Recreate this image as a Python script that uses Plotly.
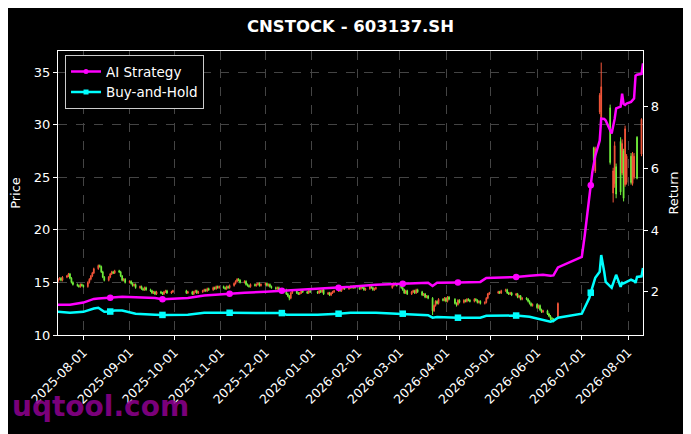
import pandas as pd
import plotly.graph_objects as go

# --- daily candles, 2025-07-15 .. 2026-06-15 (SSE trading days) ---
holidays = ["2025-10-01", "2025-10-02", "2025-10-03", "2025-10-06", "2025-10-07", "2025-10-08",
            "2026-01-01", "2026-01-02", "2026-02-16", "2026-02-17", "2026-02-18", "2026-02-19",
            "2026-02-20", "2026-02-23", "2026-04-06", "2026-05-01", "2026-05-04", "2026-05-05"]

open_ = [
    15.1, 15.3, 15.4, 15.2, 15.5, 15.6, 15.8, 15.4, 15.0, 14.8, 14.7, 14.6, 14.8,
    14.7, 14.6, 15.0, 15.3, 15.6, 15.9, 16.3, 16.6, 16.5, 16.0, 15.5, 15.2, 15.5, 15.8, 16.0, 15.9, 16.1, 16.0, 15.6, 15.2, 15.3,
    15.0, 15.1, 14.9, 14.7, 14.8, 14.5, 14.6, 14.4, 14.3, 14.5, 14.3, 14.2, 14.0, 14.1, 13.9, 14.1, 14.0, 13.9, 14.1, 14.2, 14.0, 14.1,
    14.2, 14.0, 14.1, 13.9, 14.1, 14.2, 14.0, 14.1, 14.2, 14.3, 14.2, 14.4, 14.3, 14.5, 14.4, 14.6, 14.5,
    14.6, 14.5, 14.4, 14.6, 14.5, 14.7, 14.9, 15.1, 15.3, 15.2, 15.0, 15.1, 14.8, 14.7, 14.6, 14.8, 14.7, 14.8, 14.9, 14.7,
    14.8, 14.9, 14.7, 14.8, 14.6, 14.5, 14.4, 14.5, 14.3, 14.2, 14.3, 13.9, 13.7, 13.5, 14.0, 14.2, 14.0, 13.9, 14.0, 14.2, 14.1, 14.0, 14.2,
    14.1, 14.0, 14.2, 14.1, 14.3, 13.9, 14.0, 13.8, 14.0, 14.1, 14.2, 14.3, 14.2, 14.4, 14.5, 14.4, 14.5, 14.6, 14.5, 14.6,
    14.5, 14.4, 14.6, 14.5, 14.3, 14.4, 14.6, 14.5, 14.3, 14.4, 14.5, 14.7, 14.9, 14.8,
    14.7, 14.5, 14.3, 14.0, 14.2, 13.9, 14.1, 14.2, 14.0, 14.3, 14.1, 13.8, 13.9, 13.6, 13.7, 13.5, 12.3, 12.8, 13.2, 13.0, 13.4, 13.3,
    13.5, 13.2, 13.6, 13.4, 13.0, 12.9, 13.3, 13.1, 13.3, 13.2, 13.4, 13.3, 13.2, 13.4, 13.3, 13.1, 13.2, 13.0, 13.1, 13.5, 13.9,
    14.0, 14.1, 14.0, 14.2, 14.3, 14.0, 13.9, 14.0, 13.8, 13.9, 13.6, 13.7, 13.4, 13.5, 13.4, 13.2, 13.0, 12.8,
    12.9, 12.6, 12.8, 12.4, 12.2, 12.3, 12.0, 11.8, 11.6, 11.5, 11.6,
]
high = [
    15.4, 15.5, 15.5, 15.6, 15.7, 15.9, 15.9, 15.5, 15.1, 14.9, 14.8, 14.9, 14.9,
    14.8, 15.1, 15.4, 15.7, 16.0, 16.4, 16.7, 16.7, 16.6, 16.1, 15.6, 15.6, 15.9, 16.1, 16.1, 16.2, 16.2, 16.1, 15.7, 15.4, 15.4,
    15.2, 15.2, 15.0, 14.9, 14.9, 14.7, 14.7, 14.5, 14.6, 14.6, 14.4, 14.3, 14.2, 14.2, 14.2, 14.2, 14.1, 14.2, 14.3, 14.3, 14.2, 14.3,
    14.3, 14.2, 14.2, 14.2, 14.3, 14.3, 14.2, 14.3, 14.4, 14.4, 14.5, 14.5, 14.6, 14.6, 14.7, 14.7, 14.7,
    14.7, 14.6, 14.7, 14.7, 14.8, 15.0, 15.2, 15.4, 15.4, 15.3, 15.2, 15.2, 14.9, 14.8, 14.9, 14.9, 14.9, 15.0, 15.0, 14.9,
    15.0, 15.0, 14.9, 14.9, 14.7, 14.6, 14.6, 14.6, 14.4, 14.4, 14.4, 14.0, 13.8, 14.1, 14.3, 14.3, 14.1, 14.1, 14.3, 14.3, 14.2, 14.3, 14.3,
    14.2, 14.3, 14.3, 14.4, 14.4, 14.1, 14.1, 14.1, 14.2, 14.3, 14.4, 14.4, 14.5, 14.6, 14.6, 14.6, 14.7, 14.7, 14.7, 14.7,
    14.6, 14.7, 14.7, 14.6, 14.5, 14.7, 14.7, 14.6, 14.5, 14.6, 14.8, 15.0, 15.0, 14.9,
    14.8, 14.6, 14.4, 14.3, 14.3, 14.2, 14.3, 14.3, 14.4, 14.4, 14.2, 14.0, 14.0, 13.8, 13.8, 13.6, 12.9, 13.3, 13.3, 13.5, 13.5, 13.6,
    13.6, 13.7, 13.7, 13.5, 13.1, 13.4, 13.4, 13.4, 13.4, 13.5, 13.5, 13.4, 13.5, 13.5, 13.4, 13.3, 13.3, 13.2, 13.6, 14.0, 14.1,
    14.2, 14.2, 14.3, 14.4, 14.4, 14.1, 14.1, 14.1, 14.0, 14.0, 13.8, 13.8, 13.6, 13.6, 13.5, 13.3, 13.1, 13.0,
    13.0, 12.9, 12.9, 12.5, 12.4, 12.4, 12.1, 11.9, 11.7, 11.6, 13.1,
]
low = [
    15.0, 15.2, 15.1, 15.1, 15.4, 15.5, 15.3, 14.9, 14.7, 14.6, 14.5, 14.5, 14.6,
    14.5, 14.5, 14.9, 15.2, 15.5, 15.8, 16.2, 16.4, 15.9, 15.4, 15.1, 15.1, 15.4, 15.7, 15.8, 15.8, 15.9, 15.5, 15.1, 15.1, 14.9,
    14.9, 14.8, 14.6, 14.6, 14.4, 14.4, 14.3, 14.2, 14.2, 14.2, 14.1, 13.9, 13.9, 13.8, 13.8, 13.9, 13.8, 13.8, 14.0, 13.9, 13.9, 14.0,
    13.9, 13.9, 13.8, 13.8, 14.0, 13.9, 13.9, 14.0, 14.1, 14.1, 14.1, 14.2, 14.2, 14.3, 14.3, 14.4, 14.4,
    14.4, 14.3, 14.3, 14.4, 14.4, 14.6, 14.8, 15.0, 15.1, 14.9, 14.9, 14.7, 14.6, 14.5, 14.5, 14.6, 14.6, 14.7, 14.6, 14.6,
    14.7, 14.6, 14.6, 14.5, 14.4, 14.3, 14.3, 14.2, 14.1, 14.1, 13.8, 13.6, 13.3, 13.4, 13.9, 13.9, 13.8, 13.8, 13.9, 14.0, 13.9, 13.9, 14.0,
    13.9, 13.9, 14.0, 14.0, 13.8, 13.8, 13.7, 13.7, 13.9, 14.0, 14.1, 14.1, 14.1, 14.3, 14.3, 14.3, 14.4, 14.4, 14.4, 14.4,
    14.3, 14.3, 14.4, 14.2, 14.2, 14.3, 14.4, 14.2, 14.2, 14.3, 14.4, 14.6, 14.7, 14.6,
    14.4, 14.2, 13.9, 13.9, 13.8, 13.8, 14.0, 13.9, 13.9, 14.0, 13.7, 13.7, 13.5, 13.5, 13.4, 11.9, 12.2, 12.7, 12.9, 12.9, 13.2, 13.2,
    13.1, 13.1, 13.3, 12.9, 12.7, 12.8, 13.0, 13.0, 13.1, 13.1, 13.2, 13.1, 13.1, 13.2, 13.0, 13.0, 12.9, 12.9, 13.0, 13.4, 13.8,
    13.9, 13.9, 13.9, 14.1, 13.9, 13.8, 13.8, 13.7, 13.7, 13.5, 13.5, 13.3, 13.3, 13.3, 13.1, 12.9, 12.7, 12.7,
    12.5, 12.5, 12.3, 12.1, 12.1, 11.9, 11.7, 11.4, 11.3, 11.2, 11.5,
]
close = [
    15.3, 15.4, 15.2, 15.5, 15.6, 15.8, 15.4, 15.0, 14.8, 14.7, 14.6, 14.8, 14.7,
    14.6, 15.0, 15.3, 15.6, 15.9, 16.3, 16.6, 16.5, 16.0, 15.5, 15.2, 15.5, 15.8, 16.0, 15.9, 16.1, 16.0, 15.6, 15.2, 15.3, 15.0,
    15.1, 14.9, 14.7, 14.8, 14.5, 14.6, 14.4, 14.3, 14.5, 14.3, 14.2, 14.0, 14.1, 13.9, 14.1, 14.0, 13.9, 14.1, 14.2, 14.0, 14.1, 14.2,
    14.0, 14.1, 13.9, 14.1, 14.2, 14.0, 14.1, 14.2, 14.3, 14.2, 14.4, 14.3, 14.5, 14.4, 14.6, 14.5, 14.6,
    14.5, 14.4, 14.6, 14.5, 14.7, 14.9, 15.1, 15.3, 15.2, 15.0, 15.1, 14.8, 14.7, 14.6, 14.8, 14.7, 14.8, 14.9, 14.7, 14.8,
    14.9, 14.7, 14.8, 14.6, 14.5, 14.4, 14.5, 14.3, 14.2, 14.3, 13.9, 13.7, 13.5, 14.0, 14.2, 14.0, 13.9, 14.0, 14.2, 14.1, 14.0, 14.2, 14.1,
    14.0, 14.2, 14.1, 14.3, 13.9, 14.0, 13.8, 14.0, 14.1, 14.2, 14.3, 14.2, 14.4, 14.5, 14.4, 14.5, 14.6, 14.5, 14.6, 14.5,
    14.4, 14.6, 14.5, 14.3, 14.4, 14.6, 14.5, 14.3, 14.4, 14.5, 14.7, 14.9, 14.8, 14.7,
    14.5, 14.3, 14.0, 14.2, 13.9, 14.1, 14.2, 14.0, 14.3, 14.1, 13.8, 13.9, 13.6, 13.7, 13.5, 12.3, 12.8, 13.2, 13.0, 13.4, 13.3, 13.5,
    13.2, 13.6, 13.4, 13.0, 12.9, 13.3, 13.1, 13.3, 13.2, 13.4, 13.3, 13.2, 13.4, 13.3, 13.1, 13.2, 13.0, 13.1, 13.5, 13.9, 14.0,
    14.1, 14.0, 14.2, 14.3, 14.0, 13.9, 14.0, 13.8, 13.9, 13.6, 13.7, 13.4, 13.5, 13.4, 13.2, 13.0, 12.8, 12.9,
    12.6, 12.8, 12.4, 12.2, 12.3, 12.0, 11.8, 11.6, 11.5, 11.4, 13.0,
]

# --- July/August 2026 candles after the breakout (sparse) ---
late_dates = ["2026-07-09", "2026-07-10", "2026-07-13", "2026-07-14", "2026-07-20", "2026-07-22",
              "2026-07-23", "2026-07-24", "2026-07-27", "2026-07-28", "2026-07-29", "2026-07-30",
              "2026-07-31", "2026-08-03", "2026-08-04", "2026-08-05", "2026-08-07", "2026-08-10"]
late_open = [27.8, 25.6, 31.2, 30.6, 31.6, 23.5, 24.4, 26.0, 28.4, 25.4, 27.5, 24.3, 24.5, 27.0, 24.4, 25.0, 28.8, 27.2]
late_high = [27.9, 27.9, 33.0, 35.9, 31.9, 25.9, 28.4, 26.3, 28.8, 28.6, 27.7, 29.9, 27.2, 27.3, 27.4, 27.3, 28.9, 30.6]
late_low = [26.5, 25.4, 31.0, 30.3, 26.2, 22.6, 24.0, 23.0, 23.3, 25.2, 22.7, 24.1, 24.3, 24.3, 24.2, 24.8, 24.8, 27.0]
late_close = [26.6, 27.7, 32.8, 33.6, 26.4, 25.6, 28.0, 23.4, 23.6, 28.2, 23.0, 29.6, 27.0, 24.5, 27.2, 27.0, 24.9, 30.5]

# --- cumulative return curves ---
line_dates = [
    "2025-07-15", "2025-07-23", "2025-08-01", "2025-08-08", "2025-08-11", "2025-08-15", "2025-08-19",
    "2025-08-22", "2025-08-27", "2025-09-05", "2025-09-18", "2025-09-23", "2025-10-10", "2025-10-21",
    "2025-11-07", "2025-11-17", "2025-12-01", "2025-12-12", "2025-12-15", "2026-01-05", "2026-01-19",
    "2026-01-27", "2026-02-13", "2026-03-03", "2026-03-13", "2026-03-20", "2026-03-23", "2026-03-26",
    "2026-04-09", "2026-04-24", "2026-04-28", "2026-05-18", "2026-05-27", "2026-06-05", "2026-06-10",
    "2026-06-12", "2026-06-15", "2026-07-01", "2026-07-03", "2026-07-06", "2026-07-07", "2026-07-08",
    "2026-07-10", "2026-07-13", "2026-07-14", "2026-07-16", "2026-07-17", "2026-07-21", "2026-07-23",
    "2026-07-24", "2026-07-27", "2026-07-28", "2026-07-29", "2026-07-30", "2026-07-31", "2026-08-03",
    "2026-08-05", "2026-08-06", "2026-08-07", "2026-08-10", "2026-08-11",
]
ai_ret = [
    1.58, 1.58, 1.65, 1.77, 1.78, 1.80, 1.81, 1.83, 1.84, 1.82, 1.80, 1.76, 1.80, 1.88,
    1.94, 1.97, 2.00, 2.03, 2.03, 2.10, 2.13, 2.16, 2.23, 2.26, 2.28, 2.29, 2.19, 2.29,
    2.30, 2.32, 2.45, 2.48, 2.52, 2.55, 2.52, 2.53, 2.79, 3.13, 3.84, 5.03, 5.45, 5.87,
    6.40, 6.90, 7.61, 7.60, 7.55, 7.13, 7.60, 7.94, 8.00, 8.42, 8.08, 8.05, 8.10, 8.15,
    8.26, 9.00, 9.03, 9.06, 9.40,
]
bh_ret = [
    1.35, 1.32, 1.35, 1.46, 1.48, 1.35, 1.36, 1.39, 1.39, 1.29, 1.26, 1.25, 1.26, 1.32,
    1.32, 1.32, 1.32, 1.31, 1.26, 1.26, 1.29, 1.32, 1.32, 1.29, 1.26, 1.24, 1.16, 1.18,
    1.16, 1.16, 1.22, 1.23, 1.19, 1.10, 1.03, 1.06, 1.16, 1.29, 1.48, 1.80, 1.97, 2.13,
    2.45, 2.65, 3.19, 2.65, 2.32, 2.13, 2.45, 2.55, 2.16, 2.29, 2.27, 2.29, 2.32, 2.39,
    2.35, 2.29, 2.48, 2.50, 2.77,
]
marker_idx = [6, 11, 14, 17, 20, 23, 28, 31, 40]

month_ticks = ["2025-08-01", "2025-09-01", "2025-10-01", "2025-11-01", "2025-12-01", "2026-01-01",
               "2026-02-01", "2026-03-01", "2026-04-01", "2026-05-01", "2026-06-01", "2026-07-01",
               "2026-08-01"]

FONT = "DejaVu Sans"
RED, GREEN = "#f5563a", "#72f03c"

sse_day = pd.offsets.CustomBusinessDay(holidays=holidays)
candle_dates = list(pd.date_range("2025-07-15", periods=len(close), freq=sse_day)) + list(pd.to_datetime(late_dates))

fig = go.Figure()
fig.add_trace(go.Candlestick(
    x=candle_dates,
    open=open_ + late_open, high=high + late_high, low=low + late_low, close=close + late_close,
    increasing=dict(line=dict(color=RED, width=1), fillcolor=RED),
    decreasing=dict(line=dict(color=GREEN, width=1), fillcolor=GREEN),
    whiskerwidth=0, showlegend=False, yaxis="y",
))

for name, vals, color, sym in [("AI Strategy", ai_ret, "#ff00ff", "circle"),
                               ("Buy-and-Hold", bh_ret, "#00ffff", "square")]:
    fig.add_trace(go.Scatter(
        x=line_dates, y=vals, mode="lines", yaxis="y2", showlegend=False,
        line=dict(color=color, width=2.5),
    ))
    fig.add_trace(go.Scatter(
        x=[line_dates[i] for i in marker_idx], y=[vals[i] for i in marker_idx],
        mode="markers", yaxis="y2", showlegend=False,
        marker=dict(color=color, size=6.5, symbol=sym, line=dict(width=0)),
    ))
    # legend entry only (line + marker)
    fig.add_trace(go.Scatter(
        x=[None], y=[None], name=name, mode="lines+markers", yaxis="y2",
        line=dict(color=color, width=2.5),
        marker=dict(color=color, size=5, symbol=sym),
    ))

# the page adds an 8px body margin, so the figure is sized 8px smaller than the window
fig.update_layout(
    width=683, height=426,
    paper_bgcolor="black", plot_bgcolor="black",
    font=dict(family=FONT, color="white", size=13),
    margin=dict(l=50, r=48, t=43, b=99, autoexpand=False),
    title=dict(text="<b>CNSTOCK - 603137.SH</b>", x=0.5, xref="paper", y=0.958, yanchor="middle",
               font=dict(size=16.5, color="white")),
    xaxis=dict(
        type="date", range=["2025-07-15", "2026-08-11"],
        tickvals=month_ticks, ticktext=month_ticks, tickangle=-45,
        ticks="outside", ticklen=4, tickcolor="white", tickfont=dict(size=12.5),
        showline=True, linecolor="white", linewidth=1.2, mirror=True,
        showgrid=True, gridcolor="#444444", griddash="dash", gridwidth=0.6,
        rangeslider=dict(visible=False), zeroline=False,
    ),
    yaxis=dict(
        range=[10, 37], tickvals=[10, 15, 20, 25, 30, 35],
        title=dict(text="Price", standoff=10, font=dict(size=13)), ticks="outside", ticklen=4,
        tickcolor="white", showline=True, linecolor="white", linewidth=1.2,
        showgrid=True, gridcolor="#444444", griddash="dash", gridwidth=0.6, zeroline=False,
    ),
    yaxis2=dict(
        range=[0.6, 9.8], tickvals=[2, 4, 6, 8], overlaying="y", side="right",
        title=dict(text="Return", standoff=10, font=dict(size=13)), ticks="outside", ticklen=4,
        tickcolor="white", showline=True, linecolor="white", linewidth=1.2, showgrid=False,
        zeroline=False,
    ),
    legend=dict(x=0.012, y=0.985, xanchor="left", yanchor="top", bgcolor="black",
                bordercolor="#cccccc", borderwidth=1, font=dict(size=13.5, color="white")),
    annotations=[dict(
        text="<b>uqtool.com</b>", xref="paper", yref="paper", x=-0.082, y=-0.252,
        xanchor="left", yanchor="middle", showarrow=False,
        font=dict(family=FONT, size=28, color="rgba(140,0,140,0.9)"),
    )],
)

fig.write_html("out.html")
